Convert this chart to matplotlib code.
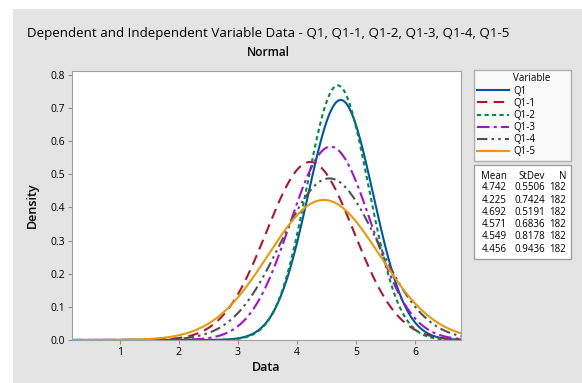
import numpy as np
import matplotlib.pyplot as plt
from matplotlib.patches import Rectangle
from matplotlib.lines import Line2D

# Datos: medias y desviaciones de cada variable
variables = ['Q1', 'Q1-1', 'Q1-2', 'Q1-3', 'Q1-4', 'Q1-5']
medias = [4.742, 4.225, 4.692, 4.571, 4.549, 4.456]
desv = [0.5506, 0.7424, 0.5191, 0.6836, 0.8178, 0.9436]
n_obs = [182, 182, 182, 182, 182, 182]

colores = ['#0054a6', '#a6192e', '#008a3e', '#9e14c8', '#505050', '#e59a10']
estilos = ['-', (0, (5, 3)), (0, (2, 1.6)), (0, (6, 2, 1.5, 2)), (0, (5, 2, 1.2, 2, 1.2, 2)), '-']

W, H = 582, 383
plt.rcParams['font.family'] = ['Open Sans', 'DejaVu Sans']

def fx(px):
    return px / W

def fy(py):
    return 1 - py / H

fig = plt.figure(figsize=(W / 100, H / 100), dpi=100)
fig.patch.set_facecolor('white')
# Fondo gris del gráfico
fig.add_artist(Rectangle((fx(13), 0), 1 - fx(13), fy(9), transform=fig.transFigure,
                         facecolor='#e4e4e4', edgecolor='none', zorder=0))

ax = fig.add_axes([fx(72), fy(340), fx(461) - fx(72), fy(71) - fy(340)])
ax.set_facecolor('white')

x = np.linspace(0.19, 6.78, 600)
for var, m, s, c, ls in zip(variables, medias, desv, colores, estilos):
    y = np.exp(-0.5 * ((x - m) / s) ** 2) / (s * np.sqrt(2 * np.pi))
    ax.plot(x, y, color=c, linestyle=ls, linewidth=1.5, label=var)

ax.set_xlim(0.19, 6.78)
ax.set_ylim(0, 0.812)
ax.set_xticks([1, 2, 3, 4, 5, 6])
ax.set_yticks(np.arange(0, 0.81, 0.1))
ax.yaxis.set_major_formatter(plt.FormatStrFormatter('%.1f'))
ax.tick_params(labelsize=7.5, length=3, color='#909090', pad=2)
for sp in ax.spines.values():
    sp.set_color('#a0a0a0')
ax.set_xlabel('Data', fontsize=9, fontweight='semibold', labelpad=2)
ax.set_ylabel('Density', fontsize=9, fontweight='semibold', labelpad=8)

fig.text(fx(268), fy(34), 'Dependent and Independent Variable Data - Q1, Q1-1, Q1-2, Q1-3, Q1-4, Q1-5',
         ha='center', va='center', fontsize=9.65)
fig.text(fx(268), fy(52), 'Normal', ha='center', va='center', fontsize=8.5, fontweight='semibold')

# Leyenda
handles = [Line2D([], [], color='none')] + ax.get_lines()
labels = ['Variable'] + variables
leg = fig.legend(handles, labels, loc='upper left',
                 bbox_to_anchor=(fx(474), fy(70), fx(571) - fx(474), 0.0), mode='expand',
                 fontsize=7, frameon=True, fancybox=False, handlelength=3.2,
                 handletextpad=0.45, labelspacing=0.12, borderpad=0.35, borderaxespad=0)
leg.get_frame().set_edgecolor('#a0a0a0')
leg.get_frame().set_linewidth(1)

# Tabla de estadísticos
fig.add_artist(Rectangle((fx(474), fy(259)), fx(571) - fx(474), fy(165) - fy(259),
                         transform=fig.transFigure, facecolor='white', edgecolor='#a0a0a0', lw=1))
fig.text(fx(507), fy(176), 'Mean', ha='right', va='center', fontsize=7)
fig.text(fx(545), fy(176), 'StDev', ha='right', va='center', fontsize=7)
fig.text(fx(566), fy(176), 'N', ha='right', va='center', fontsize=7)
for i, (m, s, n) in enumerate(zip(medias, desv, n_obs)):
    yy = fy(188 + i * 12.2)
    fig.text(fx(507), yy, f'{m:.3f}', ha='right', va='center', fontsize=7)
    fig.text(fx(545), yy, f'{s:.4f}', ha='right', va='center', fontsize=7)
    fig.text(fx(566), yy, f'{n}', ha='right', va='center', fontsize=7)

fig.savefig('out.png', dpi=100)
